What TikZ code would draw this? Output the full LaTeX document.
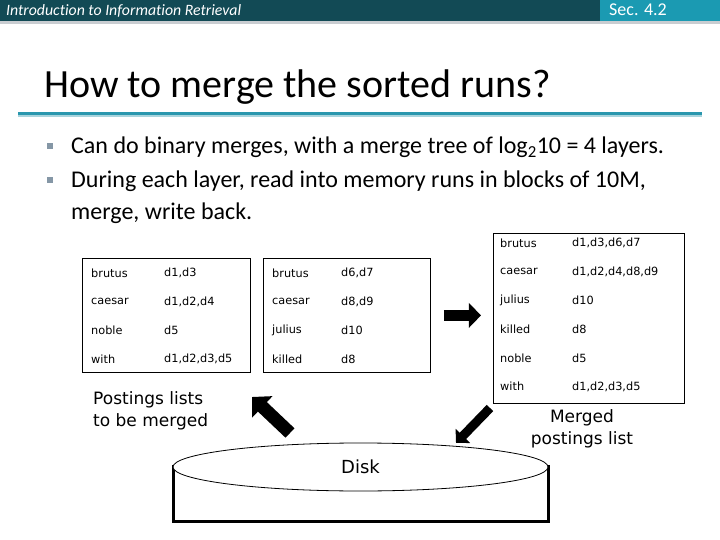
\documentclass[tikz,border=0pt]{standalone}
\usepackage{fontspec}
\setmainfont[Ligatures=NoCommon]{Carlito}
\newfontfamily\tablefont{DejaVu Sans}
\usetikzlibrary{arrows.meta,shapes.geometric}

\definecolor{headteal}{HTML}{124A55}
\definecolor{secteal}{HTML}{1B9AB2}
\definecolor{ruleteal}{HTML}{2A97AE}
\definecolor{ruletint}{HTML}{A8D4DD}
\definecolor{bulletgrey}{HTML}{8597A6}
\definecolor{stripgrey}{HTML}{C9CDD1}

\begin{document}
\begin{tikzpicture}[x=1pt,y=-1pt,
  term/.style={anchor=west,inner sep=0pt,font=\tablefont\fontsize{11.3}{12}\selectfont},
  runbox/.style={draw,line width=0.8pt,inner sep=0pt,anchor=north west},
  bullet/.style={fill=bulletgrey,inner sep=0pt,minimum size=6pt},
  bodytext/.style={anchor=base west,inner sep=0pt,font=\fontsize{24}{28}\selectfont},
  caption/.style={inner sep=0pt,font=\tablefont\fontsize{17}{22}\selectfont},
  bigarrow/.style={line width=#1,-{Triangle[length=1.1*#1,width=2.2*#1]}}]
  \useasboundingbox (0,0) rectangle (720,540);

  % header bar
  \fill[headteal] (0,0) rectangle (600,21);
  \fill[secteal] (600,0) rectangle (720,21);
  \fill[stripgrey] (0,21) rectangle (720,24);
  \node[anchor=base west,inner sep=0pt,text=white,font=\itshape\fontsize{15.8}{17}\selectfont]
    (course) at (6,16) {Introduction to Information Retrieval};
  \node[anchor=base west,inner sep=0pt,text=white,font=\fontsize{18}{20}\selectfont]
    (sec) at (609,16) {Sec. 4.2};

  % title
  \node[anchor=base west,inner sep=0pt,font=\fontsize{40}{44}\selectfont]
    (title) at (44,98) {How to merge the sorted runs?};
  \fill[ruleteal] (18,112) rectangle (702,115);
  \fill[ruletint] (18,115) rectangle (702,117);

  % bullets
  \node[bullet] (b1) at (50,146) {};
  \node[bodytext] (line1) at (71,154)
    {Can do binary merges, with a merge tree of log\textsubscript{2}10 = 4 layers.};
  \node[bullet] (b2) at (50,180) {};
  \node[bodytext] (line2) at (71,188)
    {During each layer, read into memory runs in blocks of 10M,};
  \node[bodytext] (line3) at (71,219) {merge, write back.};

  % runs to merge
  \node[runbox,minimum width=168,minimum height=114] (runA) at (82,258) {};
  \foreach \t/\d [count=\i] in {brutus/{d1,d3},caesar/{d1,d2,d4},noble/d5,with/{d1,d2,d3,d5}} {
    \node[term] (runA-t\i) at (91,244.3+28.7*\i) {\t};
    \node[term] (runA-d\i) at (164,244.3+28.7*\i) {\d};
  }
  \node[runbox,minimum width=167,minimum height=114] (runB) at (263,258) {};
  \foreach \t/\d [count=\i] in {brutus/{d6,d7},caesar/{d8,d9},julius/d10,killed/d8} {
    \node[term] (runB-t\i) at (272,244.3+28.7*\i) {\t};
    \node[term] (runB-d\i) at (341,244.3+28.7*\i) {\d};
  }

  % merged run
  \node[runbox,minimum width=191,minimum height=170] (merged) at (493,233) {};
  \foreach \t/\d [count=\i] in {brutus/{d1,d3,d6,d7},caesar/{d1,d2,d4,d8,d9},julius/d10,
                                killed/d8,noble/d5,with/{d1,d2,d3,d5}} {
    \node[term] (merged-t\i) at (500,214.3+28.7*\i) {\t};
    \node[term] (merged-d\i) at (572,214.3+28.7*\i) {\d};
  }

  % disk
  \fill (171.5,465) rectangle (174.5,523);
  \fill (546.5,465) rectangle (549.5,523);
  \fill (171.5,520) rectangle (549.5,523);
  \node[draw,ellipse,line width=0.8pt,fill=white,minimum width=375,minimum height=48,inner sep=0pt,
    font=\tablefont\fontsize{18}{20}\selectfont] (disk) at (360.5,467) {Disk};

  \node[caption,align=left,anchor=west] (toMerge) at (93,411) {Postings lists\\to be merged};
  \node[caption,align=center] (mergedLabel) at (582,429) {Merged\\postings list};

  % block arrows
  \coordinate (readTail) at (290,433);
  \coordinate (readTip) at (252,397);
  \coordinate (writeTail) at (490,408);
  \coordinate (writeTip) at (456,443);
  \draw[bigarrow=13pt] (readTail) -- (readTip);
  \draw[bigarrow=9pt] (writeTail) -- (writeTip);
  \draw[bigarrow=11pt] ([xshift=13]runB.east) -- ([xshift=-12]merged.west |- runB.east);
\end{tikzpicture}
\end{document}
